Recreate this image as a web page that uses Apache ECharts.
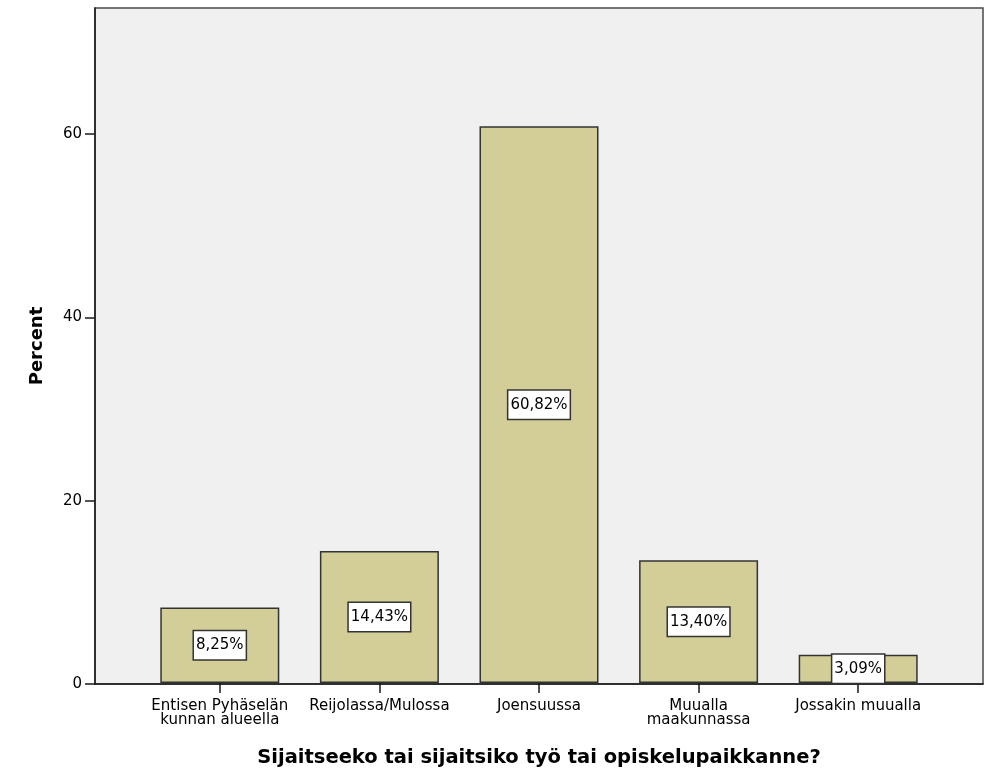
<!DOCTYPE html>
<html>
<head>
<meta charset="utf-8">
<script src="https://cdn.jsdelivr.net/npm/echarts@6/dist/echarts.min.js"></script>
<style>
html,body{margin:0;padding:0;background:#fff;}
#c{width:990px;height:773px;}
</style>
</head>
<body>
<div id="c"></div>
<script>
var categories = ['Entisen Pyhäselän\nkunnan alueella', 'Reijolassa/Mulossa', 'Joensuussa', 'Muualla\nmaakunnassa', 'Jossakin muualla'];
var percentValues = [8.25, 14.43, 60.82, 13.40, 3.09];
var yTickValues = [0, 20, 40, 60];
var yMax = 73.75;
var xTitle = 'Sijaitseeko tai sijaitsiko työ tai opiskelupaikkanne?';
var yTitle = 'Percent';

var FONT = 'DejaVu Sans';
var chart = echarts.init(document.getElementById('c'), null, {renderer: 'canvas'});
chart.setOption({
  animation: false,
  backgroundColor: '#ffffff',
  grid: [
    {left: 95, right: 7, top: 8, bottom: 89, show: true, backgroundColor: '#f0f0f0', borderColor: '#4a4a4a', borderWidth: 1.5},
    {left: 140, right: 52, top: 8, bottom: 89}
  ],
  xAxis: [
    {type: 'value', gridIndex: 0, min: 0, max: 1, position: 'bottom',
     axisLine: {show: true, onZero: false, lineStyle: {color: '#1a1a1a', width: 1.5}},
     axisTick: {show: false}, axisLabel: {show: false}, splitLine: {show: false}},
    {type: 'category', gridIndex: 1, data: categories, position: 'bottom',
     axisLine: {show: false},
     axisTick: {show: true, alignWithLabel: true, length: 10, lineStyle: {color: '#1a1a1a', width: 1.5}},
     axisLabel: {margin: 16, fontFamily: FONT, fontSize: 15, lineHeight: 14, color: '#000', interval: 0},
     name: xTitle, nameLocation: 'middle', nameGap: 75,
     nameTextStyle: {fontFamily: FONT, fontSize: 19.5, fontWeight: 'bold', color: '#000', verticalAlign: 'middle'}}
  ],
  yAxis: [
    {type: 'value', gridIndex: 0, min: 0, max: yMax, interval: 20,
     axisLine: {show: true, lineStyle: {color: '#1a1a1a', width: 1.5}},
     axisTick: {show: true, length: 10, customValues: yTickValues, lineStyle: {color: '#1a1a1a', width: 1.5}},
     axisLabel: {margin: 13, fontFamily: FONT, fontSize: 15, color: '#000', customValues: yTickValues},
     splitLine: {show: false},
     name: yTitle, nameLocation: 'middle', nameGap: 58, nameRotate: 90,
     nameTextStyle: {fontFamily: FONT, fontSize: 18, fontWeight: 'bold', color: '#000', verticalAlign: 'middle'}},
    {type: 'value', gridIndex: 1, min: 0, max: yMax, interval: 20, show: false, splitLine: {show: false}}
  ],
  series: [{
    type: 'bar', xAxisIndex: 1, yAxisIndex: 1, data: percentValues, barWidth: 119,
    itemStyle: {color: '#d3ce97', borderColor: '#333333', borderWidth: 1.5},
    label: {
      show: true, position: 'inside', fontFamily: FONT, fontSize: 15, color: '#000',
      backgroundColor: '#ffffff', borderColor: '#333333', borderWidth: 1.5, padding: [7, 2, 6, 2],
      formatter: function (p) { return p.value.toFixed(2).replace('.', ',') + '%'; }
    }
  }]
});
</script>
</body>
</html>
